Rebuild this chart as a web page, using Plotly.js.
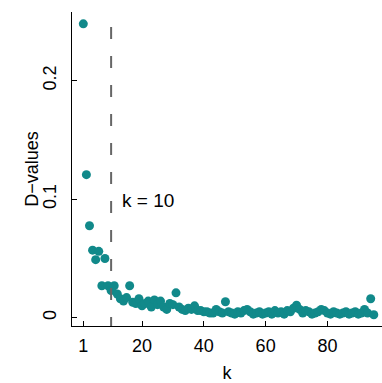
<!DOCTYPE html>
<html>
<head>
<meta charset="utf-8">
<script src="https://cdn.plot.ly/plotly-3.0.1.min.js"></script>
<style>html,body{margin:0;padding:0;background:#fff;}#chart{width:382px;height:383px;}</style>
</head>
<body>
<div id="chart"></div>
<script>
const kValues = [];
for (let i = 1; i <= 95; i++) kValues.push(i);
const dValues = [
  0.248, 0.1207, 0.0776, 0.057, 0.049, 0.056, 0.027, 0.050, 0.027, 0.023,
  0.027, 0.020, 0.016, 0.014, 0.017, 0.027, 0.013, 0.012, 0.016, 0.010,
  0.012, 0.014, 0.009, 0.015, 0.011, 0.014, 0.009, 0.007, 0.012, 0.011,
  0.021, 0.009, 0.007, 0.006, 0.008, 0.007, 0.010, 0.006, 0.006, 0.005,
  0.005, 0.004, 0.004, 0.007, 0.005, 0.004, 0.0135, 0.005, 0.004, 0.003,
  0.005, 0.004, 0.006, 0.007, 0.005, 0.003, 0.004, 0.005, 0.003, 0.004,
  0.005, 0.003, 0.006, 0.004, 0.005, 0.003, 0.006, 0.005, 0.008, 0.0105,
  0.007, 0.004, 0.006, 0.005, 0.003, 0.004, 0.005, 0.007, 0.006, 0.004,
  0.003, 0.005, 0.004, 0.003, 0.004, 0.005, 0.003, 0.004, 0.005, 0.003,
  0.004, 0.007, 0.004, 0.016, 0.0025
];
const xTicks = [1, 20, 40, 60, 80];
const yTicks = [0, 0.1, 0.2];
const yTickLabels = ['0', '0.1', '0.2'];
const chosenK = 10;
const chosenLabel = 'k = 10';
const xTitle = 'k';
const yTitle = 'D\u2212values';

const font = 'Liberation Sans, Arial, Helvetica, sans-serif';
const teal = '#11898a';

const data = [{
  x: kValues, y: dValues, type: 'scatter', mode: 'markers',
  marker: {color: teal, size: 9, line: {width: 0}},
  hoverinfo: 'x+y', showlegend: false
}];

const layout = {
  width: 382, height: 383,
  margin: {l: 72, r: 0, t: 12, b: 57},
  paper_bgcolor: '#fff', plot_bgcolor: '#fff',
  font: {family: font, size: 18, color: '#000'},
  xaxis: {
    range: [-2.66, 97.66], tickvals: xTicks, ticktext: xTicks.map(String),
    ticks: 'inside', ticklen: 5, tickcolor: '#000', tickwidth: 1,
    showline: true, linecolor: '#000', linewidth: 1, mirror: false,
    showgrid: false, zeroline: false, ticklabelstandoff: 3,
    tickfont: {family: font, size: 18, color: '#000'},
    title: {text: xTitle, font: {family: font, size: 18, color: '#000'}, standoff: 18}
  },
  yaxis: {
    range: [-0.007, 0.258], tickvals: yTicks, ticktext: yTickLabels,
    ticks: 'inside', ticklen: 5, tickcolor: '#000', tickwidth: 1,
    showline: true, linecolor: '#000', linewidth: 1, mirror: false,
    showgrid: false, zeroline: false, tickangle: -90, ticklabelstandoff: 8,
    tickfont: {family: font, size: 18, color: '#000'}
  },
  shapes: [{
    type: 'line', xref: 'x', yref: 'y', x0: chosenK, x1: chosenK, y0: 0.2453, y1: -0.007,
    line: {color: '#666', width: 2, dash: '12px,17px'}
  }],
  annotations: [{
    x: 12.9, y: 0.0993, xref: 'x', yref: 'y', text: chosenLabel, showarrow: false,
    xanchor: 'left', yanchor: 'middle', font: {family: font, size: 19, color: '#000'}
  }, {
    x: -0.13, y: 0.5, xref: 'paper', yref: 'paper', text: yTitle, showarrow: false,
    textangle: -90, xanchor: 'center', yanchor: 'middle',
    font: {family: font, size: 18, color: '#000'}
  }]
};

Plotly.newPlot('chart', data, layout, {displayModeBar: false, staticPlot: true});
</script>
</body>
</html>
